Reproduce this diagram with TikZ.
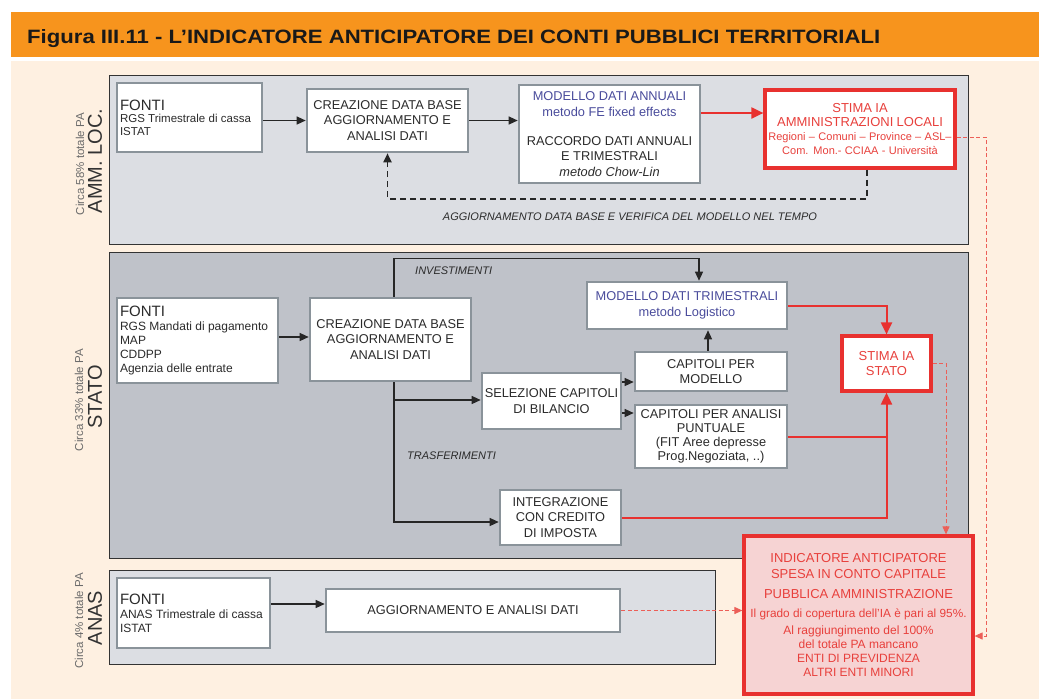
\documentclass[tikz,border=0pt]{standalone}
\usepackage{fontspec}
\setmainfont{Liberation Sans}
\usepackage{graphicx}
\usetikzlibrary{arrows.meta,calc}
\definecolor{orangeT}{HTML}{F7941D}
\definecolor{cream}{HTML}{FEF0E1}
\definecolor{panA}{HTML}{DCDEE3}
\definecolor{panB}{HTML}{BFC2C9}
\definecolor{boxgrey}{HTML}{8A939A}
\definecolor{redA}{HTML}{E8312F}
\definecolor{redT}{HTML}{E8403C}
\definecolor{redD}{HTML}{EC5F58}
\definecolor{pinkF}{HTML}{F6D3D3}
\definecolor{blueT}{HTML}{4A4C9C}
\definecolor{txt}{HTML}{2B2B2B}
\definecolor{lbl}{HTML}{6B6B6B}
\begin{document}
\begin{tikzpicture}[x=1pt,y=-1pt,
  panel/.style={draw=black!80, line width=0.9pt},
  gbox/.style={draw=boxgrey, line width=2.6pt, fill=white, text=txt, align=center, inner sep=1pt, font=\fontsize{12.8}{15.5}\selectfont},
  fbox/.style={draw=boxgrey, line width=2.6pt, fill=white, text=txt, align=left, inner xsep=3pt, inner ysep=1pt},
  rbox/.style={draw=redA, line width=3.2pt, fill=white, text=redT, align=center, inner sep=1pt},
  conn/.style={draw=black!85, line width=1.2pt, -{Triangle[length=9pt,width=8pt]}},
  rconn/.style={draw=redA, line width=2pt, -{Triangle[length=12pt,width=11pt]}},
  rline/.style={draw=redA, line width=2pt},
  rdash/.style={draw=redD, line width=1pt, dash pattern=on 4pt off 2.5pt, -{Triangle[length=8pt,width=7pt]}},
  bdash/.style={draw=black!85, line width=1.8pt, dash pattern=on 6pt off 4pt, -{Triangle[length=9pt,width=8pt]}},
  smalllbl/.style={rotate=90, text=lbl, font=\fontsize{11.5}{12}\selectfont, inner sep=0},
  biglbl/.style={rotate=90, text=black!80, font=\fontsize{20}{22}\selectfont, inner sep=0},
  itlbl/.style={text=txt, font=\fontsize{11}{12}\selectfont\itshape, inner sep=0}
]
\useasboundingbox (0,0) rectangle (1039,699);
\fill[white] (0,0) rectangle (1039,699);
% header and background
\fill[orangeT] (11,12) rectangle (1039,57);
\fill[cream] (11,61) rectangle (1039,699);
\node[anchor=base west, inner sep=0, text=black!90] (title) at (27,43)
  {\resizebox{853pt}{14pt}{\bfseries Figura III.11 - L’INDICATORE ANTICIPATORE DEI CONTI PUBBLICI TERRITORIALI}};

% panels
\draw[panel, fill=panA] (109,75) rectangle (968,244);
\draw[panel, fill=panB] (109,252) rectangle (968,558);
\draw[panel, fill=panA] (109,570) rectangle (715,664);

% side labels
\node[smalllbl] (l1a) at (80,164) {Circa 58\% totale PA};
\node[biglbl] (l1b) at (95,161) {AMM. LOC.};
\node[smalllbl] (l2a) at (79,400) {Circa 33\% totale PA};
\node[biglbl] (l2b) at (95,397) {STATO};
\node[smalllbl] (l3a) at (79,621) {Circa 4\% totale PA};
\node[biglbl] (l3b) at (95,618) {ANAS};

% panel 1 boxes
\node[fbox, minimum width=145, minimum height=69, text width=139] (fonti1) at (189.5,117.5)
  {{\fontsize{15}{17}\selectfont FONTI\par}{\fontsize{11.5}{12.5}\selectfont RGS Trimestrale di cassa\\ISTAT\par}};
\node[gbox, minimum width=161, minimum height=63] (crea1) at (387.5,120.5)
  {CREAZIONE DATA BASE\\AGGIORNAMENTO E\\ANALISI DATI};
\node[gbox, minimum width=181, minimum height=98] (mod1) at (609.5,134)
  {\textcolor{blueT}{MODELLO DATI ANNUALI}\\ \textcolor{blueT}{metodo FE fixed effects}\\[13.5pt]
   RACCORDO DATI ANNUALI\\E TRIMESTRALI\\ \textit{metodo Chow-Lin}};
\node[rbox, minimum width=190, minimum height=78, text width=186] (stima1) at (860,129)
  {{\fontsize{13}{14.5}\selectfont STIMA IA\\AMMINISTRAZIONI LOCALI\par}{\fontsize{11}{14}\selectfont Regioni – Comuni – Province – ASL–\\Com. Mon.- CCIAA - Università\par}};
\node[itlbl] (aggtxt) at (630,217) {AGGIORNAMENTO DATA BASE E VERIFICA DEL MODELLO NEL TEMPO};

% panel 2 boxes
\node[fbox, minimum width=161, minimum height=85, text width=155] (fonti2) at (197.5,340.5)
  {{\fontsize{15}{17}\selectfont FONTI\par}{\fontsize{12}{13.8}\selectfont RGS Mandati di pagamento\\MAP\\CDDPP\\Agenzia delle entrate\par}};
\node[gbox, minimum width=161, minimum height=83] (crea2) at (390.5,339.5)
  {CREAZIONE DATA BASE\\AGGIORNAMENTO E\\ANALISI DATI};
\node[gbox, minimum width=200, minimum height=47, text=blueT] (modtrim) at (687,305.5)
  {MODELLO DATI TRIMESTRALI\\metodo Logistico};
\node[gbox, minimum width=152, minimum height=39] (capmod) at (711,371.5)
  {CAPITOLI PER\\MODELLO};
\node[gbox, minimum width=139, minimum height=56, inner xsep=0pt] (sel) at (551.5,401)
  {SELEZIONE CAPITOLI\\DI BILANCIO};
\node[gbox, minimum width=152, minimum height=63, inner xsep=0pt, font=\fontsize{12.8}{14}\selectfont] (capan) at (711,436.5)
  {CAPITOLI PER ANALISI\\PUNTUALE\\(FIT Aree depresse\\Prog.Negoziata, ..)};
\node[gbox, minimum width=121, minimum height=55] (integ) at (560.5,517.5)
  {INTEGRAZIONE\\CON CREDITO\\DI IMPOSTA};
\node[rbox, minimum width=89, minimum height=55, font=\fontsize{13}{15}\selectfont] (stima2) at (886.5,363.5)
  {STIMA IA\\STATO};
\node[itlbl, anchor=west] (invtxt) at (415,271) {INVESTIMENTI};
\node[itlbl, anchor=west] (trtxt) at (407,456) {TRASFERIMENTI};

% panel 3 boxes
\node[fbox, minimum width=153, minimum height=70, text width=147] (fonti3) at (193.5,613)
  {{\fontsize{15}{17}\selectfont FONTI\par}{\fontsize{12}{14}\selectfont ANAS Trimestrale di cassa\\ISTAT\par}};
\node[gbox, minimum width=294, minimum height=43] (agg3) at (473,610.5)
  {AGGIORNAMENTO E ANALISI DATI};

% final indicator
\node[rbox, fill=pinkF, minimum width=229, minimum height=158, text width=229, inner xsep=0pt] (ind) at (858.5,615)
  {{\fontsize{13}{16}\selectfont INDICATORE ANTICIPATORE\\SPESA IN CONTO CAPITALE\par}
   \vspace{4pt}{\fontsize{13}{16}\selectfont PUBBLICA AMMINISTRAZIONE\par}
   \vspace{5pt}{\fontsize{11.8}{14}\selectfont Il grado di copertura dell’IA è pari al 95\%.\par}
   \vspace{3pt}{\fontsize{12}{14}\selectfont Al raggiungimento del 100\%\\del totale PA mancano\\ENTI DI PREVIDENZA\\ALTRI ENTI MINORI\par}};

% connectors panel 1
\draw[conn] (fonti1.east |- crea1.west) -- (crea1.west);
\draw[conn] (crea1.east) -- (crea1.east -| mod1.west);
\draw[rconn] (mod1.east |- 0,113) -- (stima1.west |- 0,113);
\draw[bdash] ([xshift=7pt]stima1.south) -- ++(0,29) -| (crea1.south);
\coordinate (rc1) at (986,137);
\coordinate (rc2) at (986,636);
\draw[rdash] (stima1.east |- rc1) -- (rc1) -- (rc2) -- (ind.east |- rc2);

% connectors panel 2
\draw[conn] (fonti2.east |- 0,337) -- (crea2.west |- 0,337);
\draw[conn] ([xshift=3.5pt]crea2.north) -- ++(0,-38) -| ([xshift=12pt]modtrim.north);
\coordinate (t1) at (394,400);
\coordinate (t2) at (394,522);
\draw[conn] ([xshift=3.5pt]crea2.south) -- (t2) -- (integ.west |- t2);
\draw[conn] (t1) -- (sel.west |- t1);
\draw[conn] (sel.east |- 0,382) -- (capmod.west |- 0,382);
\draw[conn] (sel.east |- 0,413) -- (capan.west |- 0,413);
\draw[conn] ([xshift=-3pt]capmod.north) -- ([xshift=-3pt]capmod.north |- modtrim.south);
\draw[rconn] (modtrim.east) -| (stima2.north);
\draw[rline] (capan.east) -- (capan.east -| stima2.south);
\draw[rconn] (integ.east) -| (stima2.south);
\draw[rdash] (stima2.east) -| ([xshift=87.5pt]ind.north);

% connectors panel 3
\draw[conn] (fonti3.east |- 0,604) -- (agg3.west |- 0,604);
\draw[rdash] (agg3.east) -- (agg3.east -| ind.west);
\end{tikzpicture}
\end{document}
